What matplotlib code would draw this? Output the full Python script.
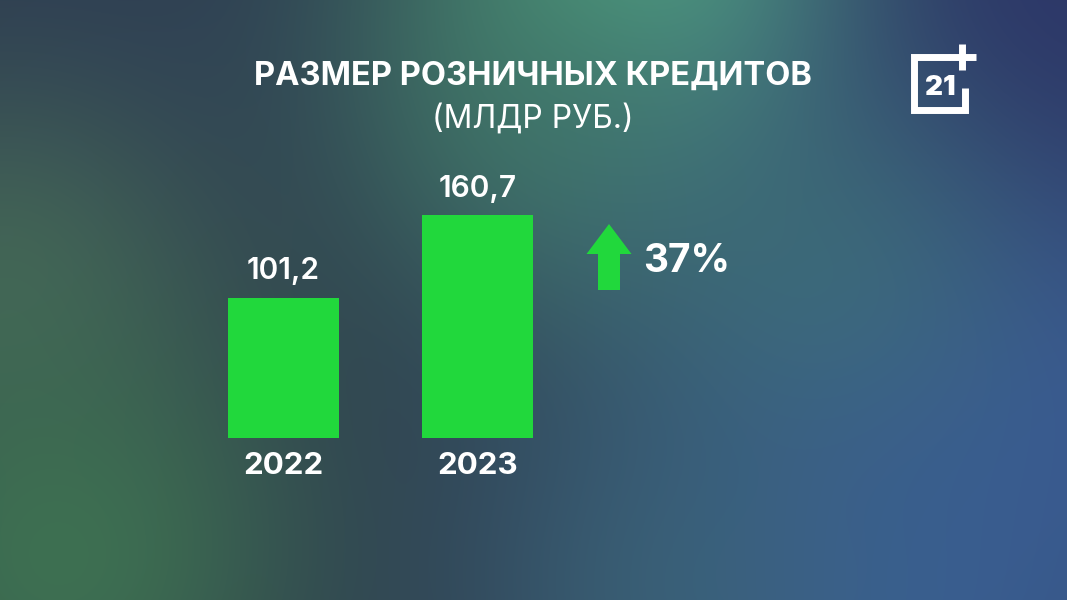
import numpy as np
import matplotlib.pyplot as plt
from matplotlib.patches import FancyArrow

years = ["2022", "2023"]
values = [101.2, 160.7]
value_labels = ["101,2", "160,7"]
title = "РАЗМЕР РОЗНИЧНЫХ КРЕДИТОВ"
subtitle = "(МЛДР РУБ.)"
growth = "37%"

W, H = 1067, 600
fig = plt.figure(figsize=(W / 100, H / 100), dpi=100)

# background: soft blurred gradient
bg = fig.add_axes([0, 0, 1, 1])
yy, xx = np.mgrid[0:H, 0:W]
img = np.zeros((H, W, 3))
img[:] = np.array([0x2d, 0x39, 0x4a]) / 255
blobs = [
    (100, 40, 200, "#2d3d58", 0.6),
    (680, -10, 190, "#54ac82", 1.0),
    (560, 130, 140, "#3e7462", 0.6),
    (0, 280, 150, "#4a6e5a", 0.75),
    (60, 560, 180, "#3f7552", 0.9),
    (1067, 360, 260, "#3a5694", 0.95),
    (1067, 0, 180, "#2c3568", 0.9),
    (830, 300, 140, "#3f786e", 0.65),
    (900, 620, 220, "#3a6096", 0.85),
    (660, 600, 150, "#3e6e78", 0.5),
]
for cx, cy, r, col, a in blobs:
    c = np.array([int(col[i:i + 2], 16) for i in (1, 3, 5)]) / 255
    w = a * np.exp(-((xx - cx) ** 2 + (yy - cy) ** 2) / (2 * r ** 2))
    img = img * (1 - w[..., None]) + c * w[..., None]
bg.imshow(img, extent=[0, W, H, 0], aspect="auto")
bg.set_xlim(0, W)
bg.set_ylim(H, 0)
bg.axis("off")

font = "Inter"

# bars
ax = fig.add_axes([200 / W, 162 / H, 360 / W, 300 / H])
ax.patch.set_alpha(0)
x = np.arange(len(years))
ax.bar(x, values, width=0.572, color="#21d83c")
ax.set_xlim(-83.5 / 194, -83.5 / 194 + 360 / 194)
ax.set_ylim(0, 300 / 1.385)
ax.axis("off")
for xi, v, lab, yr in zip(x, values, value_labels, years):
    ax.annotate(lab, (xi, v), xytext=(0, 19), textcoords="offset points",
                ha="center", va="center", color="white", fontsize=21.5,
                fontweight="semibold", family=font)
    ax.annotate(yr, (xi, 0), xytext=(0, -20), textcoords="offset points",
                ha="center", va="center", color="white", fontsize=22.5,
                fontweight="bold", family=font)

# titles
bg.text(533, 76, title, ha="center", va="center", color="white",
        fontsize=23.5, fontweight="bold", family=font)
bg.text(533, 119, subtitle, ha="center", va="center", color="white",
        fontsize=23, family=font)

# growth arrow
bg.add_patch(FancyArrow(609, 290, 0, -66, width=22, head_width=45,
                        head_length=30, length_includes_head=True,
                        color="#21d83c", lw=0))
bg.text(643, 261, growth, ha="left", va="center", color="white",
        fontsize=28, fontweight="bold", family=font)

# logo
lw = 5
bg.plot([965, 965, 914, 914, 950], [88, 110, 110, 57, 57], color="white",
        lw=lw, solid_joinstyle="miter", solid_capstyle="butt")
bg.plot([962, 962], [44, 70], color="white", lw=lw, solid_capstyle="butt")
bg.plot([949, 976], [57, 57], color="white", lw=lw, solid_capstyle="butt")
bg.text(940, 88, "21", ha="center", va="center", color="white",
        fontsize=20, fontweight="black", family=font)

fig.savefig("out.png", dpi=100)
